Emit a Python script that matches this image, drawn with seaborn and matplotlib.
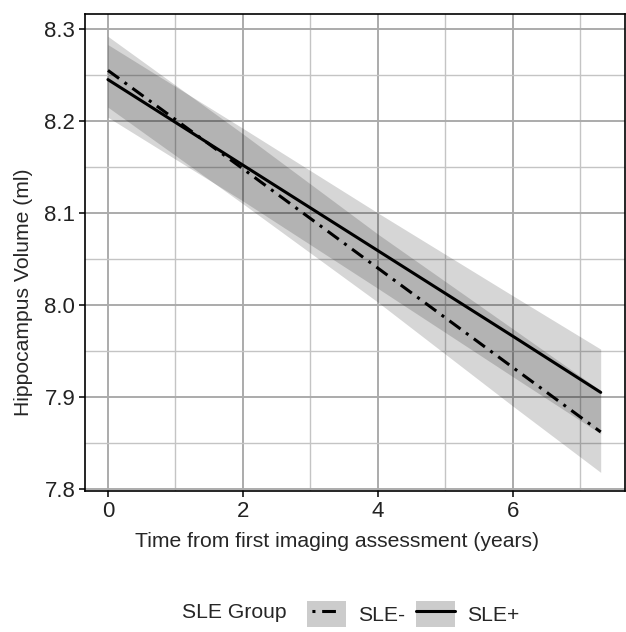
import matplotlib
matplotlib.use("Agg")
import matplotlib.pyplot as plt
import pandas as pd
import seaborn as sns
from matplotlib.legend_handler import HandlerTuple
from matplotlib.lines import Line2D
from matplotlib.patches import Patch


# years since first scan
TIME = [0.0, 2.0, 4.0, 6.0, 7.3]

# SLE- (dash-dot)
NEG_FIT = [8.255, 8.148, 8.040, 7.932, 7.862]
NEG_LO = [8.215, 8.110, 8.003, 7.890, 7.818]
NEG_HI = [8.292, 8.186, 8.077, 7.974, 7.907]

# SLE+ (solid)
POS_FIT = [8.245, 8.152, 8.059, 7.966, 7.905]
POS_LO = [8.204, 8.113, 8.018, 7.922, 7.860]
POS_HI = [8.283, 8.192, 8.100, 8.010, 7.952]

GROUPS = ["SLE-", "SLE+"]
X_TICKS = [0, 2, 4, 6]
Y_TICKS = [7.8, 7.9, 8.0, 8.1, 8.2, 8.3]


def main() -> None:
    sns.set_theme(style="white")
    plt.rcParams["font.family"] = ["Liberation Sans", "DejaVu Sans"]

    df = pd.concat(
        [
            pd.DataFrame({"time": TIME, "volume": NEG_FIT, "lo": NEG_LO, "hi": NEG_HI, "group": "SLE-"}),
            pd.DataFrame({"time": TIME, "volume": POS_FIT, "lo": POS_LO, "hi": POS_HI, "group": "SLE+"}),
        ],
        ignore_index=True,
    )

    fig = plt.figure(figsize=(6.26, 6.32), dpi=100)
    ax = fig.add_axes([85 / 626, 1 - 491 / 632, 540 / 626, 477 / 632])

    for g in GROUPS:
        sub = df[df["group"] == g]
        ax.fill_between(sub["time"], sub["lo"], sub["hi"], color="black", alpha=0.16, lw=0, zorder=2)

    dash_style = {"SLE-": (4.5, 2.2, 1.0, 2.2), "SLE+": ""}
    sns.lineplot(
        data=df, x="time", y="volume", style="group", dashes=dash_style,
        color="black", linewidth=2.2, legend=False, ax=ax, zorder=3,
    )

    ax.set_xlim(-0.34, 7.66)
    ax.set_ylim(7.7978, 8.3163)
    ax.set_xticks(X_TICKS)
    ax.set_xticklabels([str(t) for t in X_TICKS])
    ax.set_yticks(Y_TICKS)
    ax.set_yticklabels([f"{t:.1f}" for t in Y_TICKS])
    ax.set_xticks([1, 3, 5, 7], minor=True)
    ax.set_yticks([7.85, 7.95, 8.05, 8.15, 8.25], minor=True)

    ax.set_axisbelow(True)
    ax.grid(which="major", color="#ababab", lw=1.4)
    ax.grid(which="minor", color="#c4c4c4", lw=1.0)
    ax.tick_params(which="major", direction="out", length=4, width=1.1, color="black",
                   labelsize=16, labelcolor="#222222", left=True, bottom=True, pad=3)
    ax.tick_params(which="minor", length=0)
    for side in ["left", "bottom", "top", "right"]:
        ax.spines[side].set_color("black")
        ax.spines[side].set_linewidth(1.2)

    ax.set_xlabel("Time from first imaging assessment (years)", fontsize=15.2)
    ax.set_ylabel("Hippocampus Volume (ml)", fontsize=15.2)
    ax.xaxis.set_label_coords((337 - 85) / 540, (491 - 532) / 477)
    ax.yaxis.set_label_coords((33 - 85) / 540, (491 - 292) / 477)

    # legend along the bottom
    fig.text(182 / 626, 1 - 612 / 632, "SLE Group", fontsize=15.2, ha="left", va="center")
    key_bg = "#cccccc"
    handles = [
        (Patch(facecolor=key_bg, edgecolor="none"),
         Line2D([], [], color="black", lw=2.2, linestyle=(0, (0.0, 1.6, 1.0, 2.2, 4.5, 20.0)))),
        (Patch(facecolor=key_bg, edgecolor="none"),
         Line2D([], [], color="black", lw=2.2)),
    ]
    fig.legend(
        handles, GROUPS, handler_map={tuple: HandlerTuple(ndivide=1, pad=0)},
        loc="center left", bbox_to_anchor=(307 / 626, 1 - 614 / 632), ncol=2,
        frameon=False, fontsize=15.2, handlelength=1.85, handleheight=1.45,
        handletextpad=0.55, columnspacing=0.55, borderpad=0, borderaxespad=0,
    )

    fig.savefig("out.png", dpi=100)
    plt.close(fig)


if __name__ == "__main__":
    main()
